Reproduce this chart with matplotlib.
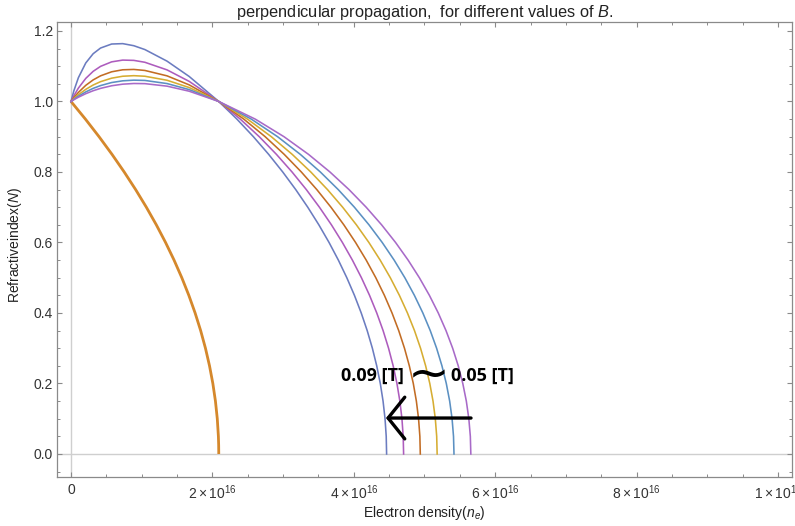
import matplotlib
matplotlib.use("Agg")
import matplotlib.pyplot as plt
from matplotlib.ticker import MultipleLocator, FixedLocator, FormatStrFormatter

plt.rcParams['font.family'] = ['Liberation Sans', 'DejaVu Sans']
plt.rcParams['mathtext.fontset'] = 'custom'
plt.rcParams['mathtext.rm'] = 'Liberation Sans'
plt.rcParams['mathtext.it'] = 'Liberation Sans:italic'

# ---------------- data (electron density in units of 1e16 m^-3) ----------------
# rising part of the X-mode curves (common density samples)
n_rise = [0, 0.0418, 0.1045, 0.209, 0.3135, 0.418, 0.57475, 0.7315, 0.88825,
          1.045, 1.3585, 1.672, 2.09]
# falling part of the X-mode curves (common refractive-index samples)
N_fall = [0.95, 0.9, 0.85, 0.8, 0.75, 0.7, 0.65, 0.6, 0.55, 0.5,
          0.45, 0.4, 0.35, 0.3, 0.25, 0.2, 0.15, 0.1, 0.05, 0.0]

xmode_rise_N = [
    [1.0, 1.0311, 1.0675, 1.1093, 1.1355, 1.1516, 1.1630, 1.1641, 1.1582, 1.1473, 1.1144, 1.0709, 1.0],
    [1.0, 1.0166, 1.0379, 1.0655, 1.0855, 1.0996, 1.1124, 1.1174, 1.1166, 1.1112, 1.0896, 1.0570, 1.0],
    [1.0, 1.0111, 1.0257, 1.0458, 1.0612, 1.0728, 1.0842, 1.0899, 1.0909, 1.0880, 1.0727, 1.0471, 1.0],
    [1.0, 1.0081, 1.0191, 1.0344, 1.0467, 1.0562, 1.0661, 1.0716, 1.0732, 1.0716, 1.0602, 1.0395, 1.0],
    [1.0, 1.0063, 1.0149, 1.0272, 1.0372, 1.0451, 1.0537, 1.0586, 1.0605, 1.0597, 1.0508, 1.0337, 1.0],
    [1.0, 1.0051, 1.0120, 1.0221, 1.0305, 1.0372, 1.0446, 1.0491, 1.0510, 1.0506, 1.0435, 1.0291, 1.0],
]
xmode_fall_n = [
    [2.3465, 2.5805, 2.7959, 2.9949, 3.1790, 3.3491, 3.5060, 3.6501, 3.7818, 3.9014,
     4.0092, 4.1052, 4.1897, 4.2628, 4.3245, 4.3749, 4.4140, 4.4419, 4.4587, 4.4642],
    [2.3943, 2.6632, 2.9057, 3.1266, 3.3287, 3.5141, 3.6839, 3.8390, 3.9803, 4.1081,
     4.2229, 4.3249, 4.4146, 4.4919, 4.5571, 4.6103, 4.6516, 4.6811, 4.6987, 4.7046],
    [2.4438, 2.7471, 3.0158, 3.2578, 3.4773, 3.6772, 3.8594, 4.0252, 4.1756, 4.3114,
     4.4330, 4.5409, 4.6355, 4.7170, 4.7857, 4.8417, 4.8851, 4.9161, 4.9346, 4.9408],
    [2.4959, 2.8340, 3.1289, 3.3916, 3.6283, 3.8426, 4.0371, 4.2135, 4.3730, 4.5167,
     4.6451, 4.7589, 4.8585, 4.9442, 5.0164, 5.0751, 5.1207, 5.1531, 5.1726, 5.1790],
    [2.5501, 2.9228, 3.2435, 3.5266, 3.7801, 4.0087, 4.2153, 4.4021, 4.5707, 4.7221,
     4.8573, 4.9769, 5.0815, 5.1714, 5.2470, 5.3085, 5.3562, 5.3902, 5.4105, 5.4173],
    [2.6060, 3.0133, 3.3593, 3.6626, 3.9327, 4.1752, 4.3938, 4.5909, 4.7684, 4.9276,
     5.0695, 5.1949, 5.3044, 5.3985, 5.4776, 5.5419, 5.5918, 5.6272, 5.6485, 5.6555],
]
xmode_colors = ['#6b7cc0', '#ad5cbd', '#c26c24', '#d6ad32', '#5b90c2', '#a86ac8']

omode_n = [0, 0.2038, 0.3971, 0.5800, 0.7524, 0.9144, 1.0659, 1.2070, 1.3376, 1.4578,
           1.5675, 1.6668, 1.7556, 1.8340, 1.9019, 1.9594, 2.0064, 2.0430, 2.0691,
           2.0848, 2.0887, 2.09]
omode_N = [1.0, 0.95, 0.9, 0.85, 0.8, 0.75, 0.7, 0.65, 0.6, 0.55,
           0.5, 0.45, 0.4, 0.35, 0.3, 0.25, 0.2, 0.15, 0.1,
           0.05, 0.025, 0.0]
omode_color = '#d5882c'

xtick_vals = [0, 2, 4, 6, 8, 10]
xtick_labels = ['0', r'$2\times10^{16}$', r'$4\times10^{16}$', r'$6\times10^{16}$',
                r'$8\times10^{16}$', r'$1\times10^{17}$']

# ---------------- figure ----------------
fig = plt.figure(figsize=(7.95, 5.26), dpi=100)
ax = fig.add_axes([0.0717, 0.0932, 0.9245, 0.865])

ax.axhline(0, color='#cfcfcf', lw=1.0, zorder=0.5)
ax.axvline(0, color='#cfcfcf', lw=1.0, zorder=0.5)

ax.plot(omode_n, omode_N, color=omode_color, lw=2.0, solid_capstyle='butt',
        solid_joinstyle='round', zorder=2)
for rise, fall, col in zip(xmode_rise_N, xmode_fall_n, xmode_colors):
    xs = n_rise + fall
    ys = rise + N_fall
    ax.plot(xs, ys, color=col, lw=1.15, solid_joinstyle='round', zorder=3)

ax.set_xlim(-0.198, 10.198)
ax.set_ylim(-0.0652, 1.2255)

ax.xaxis.set_major_locator(FixedLocator(xtick_vals))
ax.set_xticklabels(xtick_labels)
ax.xaxis.set_minor_locator(MultipleLocator(0.5))
ax.yaxis.set_major_locator(MultipleLocator(0.2))
ax.yaxis.set_minor_locator(MultipleLocator(0.05))
ax.yaxis.set_major_formatter(FormatStrFormatter('%.1f'))

ax.tick_params(which='both', direction='in', top=True, right=True,
               color='#8a8a8a', labelcolor='#333333', labelsize=10)
ax.tick_params(which='major', length=3.6, width=0.8)
ax.tick_params(which='minor', length=2.0, width=0.7)
ax.tick_params(axis='x', which='major', pad=4.3)
ax.tick_params(axis='y', which='major', pad=3.0)
for sp in ax.spines.values():
    sp.set_color('#8a8a8a')
    sp.set_linewidth(0.9)

ax.set_title(r'perpendicular propagation,  for different values of $B$.',
             fontsize=11.8, color='#222222', pad=3.0)
ax.set_xlabel(r'Electron density($n_e$)', fontsize=10, color='#222222')
ax.set_ylabel(r'Refractiveindex($N$)', fontsize=10, color='#222222')
ax.xaxis.set_label_coords(0.5, -0.06)
ax.yaxis.set_label_coords(-0.045, 0.51)

# annotations drawn on top of the chart
label_B = ['0.09 [T]', '0.05 [T]']
ax.text(4.27, 0.221, label_B[0], fontsize=13, fontweight='bold',
        family=['Open Sans', 'DejaVu Sans'], ha='center', va='center', color='black')
ax.text(5.82, 0.221, label_B[1], fontsize=13, fontweight='bold',
        family=['Open Sans', 'DejaVu Sans'], ha='center', va='center', color='black')
ax.text(5.057, 0.222, '~', fontsize=36, ha='center', va='center',
        family=['DejaVu Sans'], color='black')
ax.annotate('', xy=(4.455, 0.102), xytext=(5.658, 0.102),
            arrowprops=dict(arrowstyle='->,head_length=1.2,head_width=1.5',
                            lw=2.4, color='black', shrinkA=0, shrinkB=0))

fig.savefig('out.png', dpi=100)
